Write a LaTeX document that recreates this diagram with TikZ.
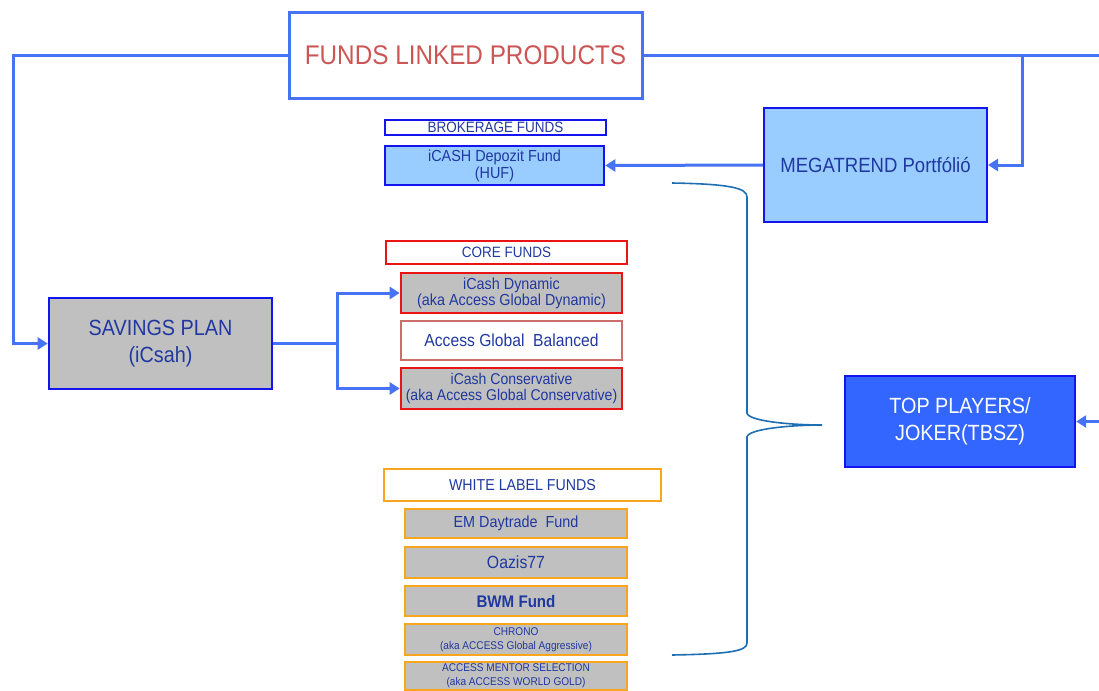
\documentclass[tikz,border=0pt]{standalone}
\usepackage{fontspec}
\setmainfont{Liberation Sans}[FakeStretch=0.9]
\usetikzlibrary{arrows.meta}

\definecolor{txtblue}{RGB}{32,56,160}
\definecolor{titlered}{RGB}{204,85,85}
\definecolor{linkblue}{RGB}{70,115,245}
\definecolor{boxblue}{RGB}{20,20,240}
\definecolor{fundred}{RGB}{235,20,20}
\definecolor{softred}{RGB}{205,110,110}
\definecolor{fundorange}{RGB}{250,165,30}
\definecolor{fundgray}{RGB}{192,192,192}
\definecolor{lightfill}{RGB}{153,204,255}
\definecolor{playerfill}{RGB}{51,102,255}
\definecolor{bracecol}{RGB}{30,110,180}

\newcommand{\fs}[2]{\fontsize{#1}{#2}\selectfont}

\begin{document}
\begin{tikzpicture}[x=0.5pt,y=-0.5pt]
    \tikzstyle{every node}=[inner sep=0pt, align=center, text=txtblue]
    \tikzstyle{fund}=[draw, minimum width=110.5pt]
    \tikzstyle{white fund}=[fund, fill=fundgray, draw=fundorange, line width=1.2pt, minimum width=111pt]
    \tikzstyle{link}=[draw=linkblue, line width=1.5pt]
    \tikzstyle{linkarrow}=[link, -{Triangle[length=5pt,width=6pt]}]
    \useasboundingbox (0,0) rectangle (1099,691);

    % header
    \node[draw=linkblue, line width=1.5pt, minimum width=176.5pt, minimum height=43pt,
        text=titlered, font=\fs{13.5}{16}] (title) at (465.5,55) {FUNDS LINKED PRODUCTS};

    \node[draw=boxblue, line width=1.3pt, fill=fundgray, minimum width=111.5pt, minimum height=45.5pt,
        font=\fs{11}{13.5}] (savings) at (160.5,343.5) {SAVINGS PLAN\\(iCsah)};
    \node[draw=boxblue, line width=1pt, fill=lightfill, minimum width=111.5pt, minimum height=57pt,
        font=\fs{10.3}{12}] (megatrend) at (875.5,165) {MEGATREND Portfólió};
    \node[draw=boxblue, line width=1.2pt, fill=playerfill, minimum width=115pt, minimum height=45.5pt,
        text=white, font=\fs{11}{13.5}] (players) at (960,421.5) {TOP PLAYERS/\\JOKER(TBSZ)};

    % brokerage funds
    \node[fund, draw=boxblue, line width=1pt, minimum height=7.5pt, font=\fs{7.5}{8}] (brokerage) at (495.5,127.5) {BROKERAGE FUNDS};
    \node[fund, draw=boxblue, fill=lightfill, line width=1.3pt, minimum width=109.5pt, minimum height=19.5pt,
        font=\fs{8}{8.5}] (depozit) at (494.5,165.5) {iCASH Depozit Fund\\(HUF)};

    % core funds
    \node[fund, draw=fundred, line width=0.8pt, minimum width=120.5pt, minimum height=11.5pt, font=\fs{7.5}{8}] (core) at (506.5,252.5) {CORE FUNDS};
    \node[fund, draw=fundred, fill=fundgray, line width=1.3pt, minimum height=20pt, font=\fs{8}{8}] (dynamic) at (511.5,293) {iCash Dynamic\\(aka Access Global Dynamic)};
    \node[fund, draw=softred, line width=1pt, minimum height=19.5pt, font=\fs{8.7}{10}] (balanced) at (511.5,340.5) {Access Global\ \ Balanced};
    \node[fund, draw=fundred, fill=fundgray, line width=1.3pt, minimum height=20.5pt, font=\fs{7.8}{8}] (conservative) at (511.5,388.5) {iCash Conservative\\(aka Access Global Conservative)};

    % white label funds
    \node[fund, draw=fundorange, line width=1.3pt, minimum width=138.5pt, minimum height=16pt, font=\fs{7.9}{9}] (whitelabel) at (522.5,485) {WHITE LABEL FUNDS};
    \node[white fund, minimum height=14.5pt, font=\fs{8}{9}] (daytrade) at (516,523.5) {EM Daytrade\ \ Fund};
    \node[white fund, minimum height=15.5pt, font=\fs{8.8}{10}] (oazis) at (516,562.5) {Oazis77};
    \node[white fund, minimum height=15pt, font=\bfseries\fs{8.4}{10}] (bwm) at (516,601) {BWM Fund};
    \node[white fund, minimum height=15.5pt, font=\fs{5.6}{6.8}] (chrono) at (516,639.5) {CHRONO\\(aka ACCESS Global Aggressive)};
    \node[white fund, minimum height=14pt, font=\fs{5.6}{6.8}] (mentor) at (516,676) {ACCESS MENTOR SELECTION\\(aka ACCESS WORLD GOLD)};

    % connectors
    \coordinate (lcorner) at (13,55);
    \coordinate (rend) at (1099,55);
    \coordinate (branch) at (1022,55);
    \coordinate (split) at (337,343.5);
    \coordinate (rin) at (1099,421.5);
    \draw[linkarrow] (title.west) -- (lcorner) |- (savings.west);
    \draw[link] (title.east) -- (rend);
    \draw[linkarrow] (branch) |- (megatrend.east);
    \draw[linkarrow] (megatrend.west) -- (depozit.east);
    \draw[link] (savings.east) -- (split);
    \draw[linkarrow] (split) |- (dynamic.west);
    \draw[linkarrow] (split) |- (conservative.west);
    \draw[linkarrow] (rin) -- (players.east);

    % brace
    \draw[bracecol, line width=0.8pt] (672,183) .. controls (730,184) and (747,188) .. (747,197)
        -- (747,413) .. controls (748,421) and (790,425) .. (822,425)
        .. controls (790,425) and (748,429) .. (747,437)
        -- (747,643) .. controls (747,651) and (730,654) .. (672,655);
\end{tikzpicture}
\end{document}
